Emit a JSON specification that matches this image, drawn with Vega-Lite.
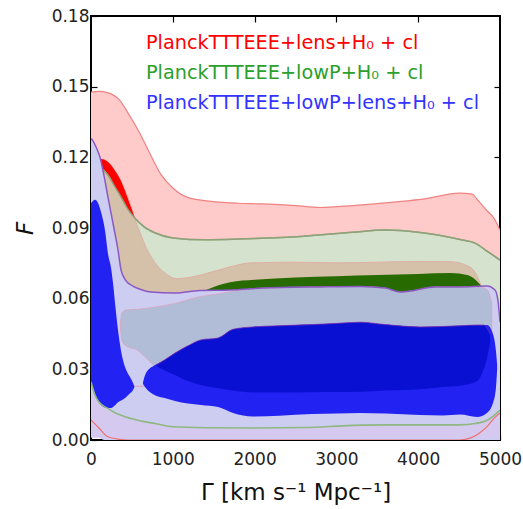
{
"$schema": "https://vega.github.io/schema/vega-lite/v6.json",
"width": 409, "height": 424,
"autosize": "none",
"padding": {"left": 91, "top": 16, "right": 23, "bottom": 69},
"background": "white",
"config": {
  "view": {"stroke": "black", "strokeWidth": 2},
  "area": {"opacity": 1, "fillOpacity": 1},
  "line": {"opacity": 1},
  "text": {"opacity": 1},
  "axis": {"grid": false, "domain": false, "tickColor": "black", "tickWidth": 1.2, "tickSize": -6, "labelFlush": false, "labelOverlap": false,
           "labelFont": "DejaVu Sans", "labelFontSize": 17, "labelColor": "#222", "labelPadding": 8,
           "titleFont": "DejaVu Sans", "titleFontSize": 23, "titleFontWeight": "normal", "titleColor": "#111"}
},
"datasets": {
  "pink": [{"x":0,"lo":0.0085,"hi":0.1477},{"x":100,"lo":0.005,"hi":0.148},{"x":200,"lo":0.0015,"hi":0.1475},{"x":350,"lo":0.0003,"hi":0.1443},{"x":450,"lo":0,"hi":0.139},{"x":600,"lo":0,"hi":0.130},{"x":700,"lo":0,"hi":0.123},{"x":850,"lo":0,"hi":0.113},{"x":1000,"lo":0,"hi":0.107},{"x":1200,"lo":0,"hi":0.1028},{"x":1500,"lo":0,"hi":0.1012},{"x":1800,"lo":0,"hi":0.1005},{"x":2100,"lo":0,"hi":0.1002},{"x":2500,"lo":0,"hi":0.0995},{"x":2800,"lo":0,"hi":0.0987},{"x":3200,"lo":0,"hi":0.0995},{"x":3700,"lo":0,"hi":0.101},{"x":4100,"lo":0,"hi":0.1025},{"x":4500,"lo":0,"hi":0.1048},{"x":4650,"lo":0.001,"hi":0.1045},{"x":4750,"lo":0.003,"hi":0.101},{"x":4850,"lo":0.006,"hi":0.097},{"x":4920,"lo":0.009,"hi":0.0945},{"x":5000,"lo":0.0115,"hi":0.089}],
  "green": [{"x":0,"lo":0.0246,"hi":0.1145},{"x":50,"lo":0.019,"hi":0.1155},{"x":100,"lo":0.016,"hi":0.1155},{"x":200,"lo":0.0135,"hi":0.1128},{"x":300,"lo":0.0115,"hi":0.107},{"x":370,"lo":0.0105,"hi":0.103},{"x":450,"lo":0.0095,"hi":0.098},{"x":540,"lo":0.0087,"hi":0.094},{"x":650,"lo":0.0078,"hi":0.0905},{"x":780,"lo":0.007,"hi":0.088},{"x":1000,"lo":0.0056,"hi":0.0858},{"x":1400,"lo":0.0052,"hi":0.085},{"x":2000,"lo":0.0051,"hi":0.0855},{"x":2600,"lo":0.0053,"hi":0.0865},{"x":3200,"lo":0.0062,"hi":0.0882},{"x":3600,"lo":0.0064,"hi":0.0891},{"x":4000,"lo":0.0064,"hi":0.0882},{"x":4500,"lo":0.0064,"hi":0.0852},{"x":4700,"lo":0.007,"hi":0.0835},{"x":4850,"lo":0.0085,"hi":0.08},{"x":5000,"lo":0.0127,"hi":0.0764}],
  "tan": [{"x":0,"lo":0.06,"hi":0.117},{"x":122,"lo":0.06,"hi":0.1193},{"x":208,"lo":0.06,"hi":0.118},{"x":300,"lo":0.06,"hi":0.114},{"x":367,"lo":0.06,"hi":0.11},{"x":477,"lo":0.06,"hi":0.1006},{"x":540,"lo":0.06,"hi":0.0935},{"x":600,"lo":0.06,"hi":0.088},{"x":685,"lo":0.06,"hi":0.081},{"x":800,"lo":0.06,"hi":0.0745},{"x":900,"lo":0.06,"hi":0.071},{"x":1050,"lo":0.06,"hi":0.0685},{"x":1200,"lo":0.06,"hi":0.069},{"x":1390,"lo":0.06,"hi":0.0705},{"x":1700,"lo":0.06,"hi":0.0735},{"x":1950,"lo":0.06,"hi":0.0752},{"x":2500,"lo":0.06,"hi":0.0755},{"x":3000,"lo":0.06,"hi":0.0752},{"x":3500,"lo":0.06,"hi":0.0755},{"x":4000,"lo":0.06,"hi":0.0758},{"x":4400,"lo":0.06,"hi":0.0757},{"x":4633,"lo":0.06,"hi":0.0734},{"x":4756,"lo":0.06,"hi":0.0667},{"x":4800,"lo":0.06,"hi":0.062}],
  "wedge": [{"x":0,"lo":0.1145,"hi":0.117},{"x":122,"lo":0.1155,"hi":0.1193},{"x":208,"lo":0.1128,"hi":0.118},{"x":300,"lo":0.107,"hi":0.114},{"x":367,"lo":0.103,"hi":0.11},{"x":450,"lo":0.098,"hi":0.1025},{"x":540,"lo":0.094,"hi":0.0938}],
  "dgreen": [{"x":1390,"lo":0.063,"hi":0.0635},{"x":1500,"lo":0.06,"hi":0.065},{"x":1700,"lo":0.06,"hi":0.067},{"x":2000,"lo":0.06,"hi":0.068},{"x":2500,"lo":0.06,"hi":0.069},{"x":3000,"lo":0.06,"hi":0.0695},{"x":3500,"lo":0.06,"hi":0.07},{"x":4000,"lo":0.06,"hi":0.0705},{"x":4400,"lo":0.06,"hi":0.0709},{"x":4600,"lo":0.06,"hi":0.07},{"x":4700,"lo":0.06,"hi":0.068},{"x":4790,"lo":0.06,"hi":0.0645}],
  "lav": [{"x":0,"lo":0.004,"hi":0.128},{"x":24,"lo":0.003,"hi":0.127},{"x":60,"lo":0.002,"hi":0.1245},{"x":110,"lo":0.001,"hi":0.12},{"x":160,"lo":0,"hi":0.112},{"x":208,"lo":0,"hi":0.103},{"x":280,"lo":0,"hi":0.09},{"x":330,"lo":0,"hi":0.0807},{"x":367,"lo":0,"hi":0.0722},{"x":420,"lo":0,"hi":0.068},{"x":489,"lo":0,"hi":0.0658},{"x":600,"lo":0,"hi":0.064},{"x":733,"lo":0,"hi":0.0628},{"x":1027,"lo":0,"hi":0.0624},{"x":1330,"lo":0,"hi":0.0635},{"x":1700,"lo":0,"hi":0.0637},{"x":2100,"lo":0,"hi":0.0645},{"x":2800,"lo":0,"hi":0.065},{"x":3300,"lo":0,"hi":0.0652},{"x":3600,"lo":0,"hi":0.0645},{"x":3778,"lo":0,"hi":0.0628},{"x":3950,"lo":0,"hi":0.0635},{"x":4200,"lo":0,"hi":0.065},{"x":4500,"lo":0,"hi":0.065},{"x":4841,"lo":0,"hi":0.0654},{"x":4939,"lo":0,"hi":0.0637},{"x":4976,"lo":0,"hi":0.059},{"x":5000,"lo":0,"hi":0.05}],
  "gray": [{"x":360,"lo":0.047,"hi":0.05},{"x":380,"lo":0.042,"hi":0.054},{"x":428,"lo":0.04,"hi":0.0552},{"x":575,"lo":0.038,"hi":0.0555},{"x":700,"lo":0.034,"hi":0.056},{"x":800,"lo":0.031,"hi":0.0565},{"x":1027,"lo":0.03,"hi":0.058},{"x":1308,"lo":0.03,"hi":0.0607},{"x":1550,"lo":0.03,"hi":0.062},{"x":1800,"lo":0.03,"hi":0.0635},{"x":2100,"lo":0.03,"hi":0.0645},{"x":2800,"lo":0.03,"hi":0.065},{"x":3300,"lo":0.03,"hi":0.0652},{"x":3600,"lo":0.03,"hi":0.0645},{"x":3778,"lo":0.03,"hi":0.0628},{"x":3950,"lo":0.03,"hi":0.0635},{"x":4200,"lo":0.03,"hi":0.065},{"x":4500,"lo":0.03,"hi":0.065},{"x":4750,"lo":0.03,"hi":0.065},{"x":4850,"lo":0.03,"hi":0.0635},{"x":4900,"lo":0.035,"hi":0.058}],
  "blueL": [{"x":0,"lo":0.025,"hi":0.1005},{"x":24,"lo":0.0212,"hi":0.1015},{"x":49,"lo":0.019,"hi":0.102},{"x":86,"lo":0.0165,"hi":0.1006},{"x":122,"lo":0.015,"hi":0.0968},{"x":171,"lo":0.0138,"hi":0.089},{"x":208,"lo":0.0136,"hi":0.079},{"x":245,"lo":0.0136,"hi":0.073},{"x":269,"lo":0.014,"hi":0.0666},{"x":300,"lo":0.015,"hi":0.056},{"x":330,"lo":0.016,"hi":0.0467},{"x":391,"lo":0.0172,"hi":0.034},{"x":416,"lo":0.0178,"hi":0.031},{"x":477,"lo":0.0198,"hi":0.0267},{"x":510,"lo":0.021,"hi":0.0245},{"x":530,"lo":0.0225,"hi":0.0228}],
  "blueR": [{"x":636,"lo":0.0238,"hi":0.0245},{"x":672,"lo":0.022,"hi":0.0284},{"x":782,"lo":0.019,"hi":0.0318},{"x":900,"lo":0.0178,"hi":0.034},{"x":1027,"lo":0.0166,"hi":0.0369},{"x":1186,"lo":0.0155,"hi":0.04},{"x":1345,"lo":0.0149,"hi":0.0425},{"x":1553,"lo":0.014,"hi":0.0433},{"x":1736,"lo":0.0115,"hi":0.047},{"x":1980,"lo":0.01,"hi":0.048},{"x":2300,"lo":0.0103,"hi":0.0485},{"x":2700,"lo":0.011,"hi":0.049},{"x":3000,"lo":0.0112,"hi":0.0495},{"x":3289,"lo":0.0115,"hi":0.05},{"x":3600,"lo":0.0112,"hi":0.049},{"x":4022,"lo":0.0106,"hi":0.048},{"x":4300,"lo":0.0104,"hi":0.0482},{"x":4511,"lo":0.0108,"hi":0.0485},{"x":4720,"lo":0.0098,"hi":0.0488},{"x":4841,"lo":0.0115,"hi":0.0488},{"x":4914,"lo":0.0157,"hi":0.045},{"x":4950,"lo":0.022,"hi":0.038},{"x":4965,"lo":0.03,"hi":0.032}],
  "navy": [{"x":794,"lo":0.0315,"hi":0.0318},{"x":900,"lo":0.0295,"hi":0.034},{"x":1027,"lo":0.0276,"hi":0.0369},{"x":1186,"lo":0.025,"hi":0.04},{"x":1345,"lo":0.0233,"hi":0.0425},{"x":1553,"lo":0.022,"hi":0.0433},{"x":1736,"lo":0.021,"hi":0.047},{"x":1980,"lo":0.0202,"hi":0.048},{"x":2300,"lo":0.0202,"hi":0.0485},{"x":2700,"lo":0.0203,"hi":0.049},{"x":3000,"lo":0.0204,"hi":0.0495},{"x":3289,"lo":0.0205,"hi":0.05},{"x":3600,"lo":0.021,"hi":0.049},{"x":4022,"lo":0.0215,"hi":0.048},{"x":4300,"lo":0.0225,"hi":0.0482},{"x":4511,"lo":0.023,"hi":0.0485},{"x":4720,"lo":0.025,"hi":0.0488},{"x":4800,"lo":0.03,"hi":0.0488},{"x":4850,"lo":0.036,"hi":0.047},{"x":4880,"lo":0.042,"hi":0.045}],
  "redfaint": [{"x":0,"y":0.04},{"x":100,"y":0.032},{"x":200,"y":0.026},{"x":300,"y":0.0235},{"x":400,"y":0.0228},{"x":600,"y":0.0228},{"x":800,"y":0.0232},{"x":1100,"y":0.022},{"x":1500,"y":0.0205},{"x":2000,"y":0.0195},{"x":3000,"y":0.0195},{"x":4000,"y":0.0205},{"x":4500,"y":0.0215},{"x":4700,"y":0.024},{"x":4800,"y":0.03}]
},
"layer": [
  {"data": {"name": "pink"}, "mark": {"type": "area", "color": "#ffcaca", "opacity": 1, "interpolate": "monotone", "clip": true, "line": {"color": "#f08282", "strokeWidth": 1.2}},
   "encoding": {"x": {"field": "x", "type": "quantitative", "scale": {"domain": [0, 5000], "nice": false, "zero": false},
                      "axis": {"orient": "bottom", "values": [0, 1000, 2000, 3000, 4000, 5000], "format": "d", "labelPadding": 17, "title": "Γ [km s⁻¹ Mpc⁻¹]", "titlePadding": 14}},
                "y": {"field": "hi", "type": "quantitative", "scale": {"domain": [0, 0.18], "nice": false, "zero": false},
                      "axis": {"orient": "left", "values": [0, 0.03, 0.06, 0.09, 0.12, 0.15, 0.18], "format": ".2f", "title": "F", "titleFontStyle": "italic", "titlePadding": 14}},
                "y2": {"field": "lo"}}},
  {"data": {"name": "green"}, "mark": {"type": "area", "color": "#d5e2cd", "opacity": 1, "interpolate": "monotone", "clip": true, "line": {"color": "#90b482", "strokeWidth": 1.5}},
   "encoding": {"x": {"field": "x", "type": "quantitative", "scale": {"domain": [0, 5000], "nice": false, "zero": false},
                      "axis": {"orient": "top", "values": [1000, 2000, 3000, 4000], "labels": false, "title": null}},
                "y": {"field": "hi", "type": "quantitative", "scale": {"domain": [0, 0.18], "nice": false, "zero": false},
                      "axis": {"orient": "right", "values": [0.03, 0.06, 0.09, 0.12, 0.15], "labels": false, "title": null}},
                "y2": {"field": "lo"}}},
  {"data": {"name": "tan"}, "mark": {"type": "area", "color": "#d5c0aa", "opacity": 1, "interpolate": "monotone", "clip": true, "line": {"color": "#e0a8a0", "strokeWidth": 0.8}},
   "encoding": {"x": {"field": "x", "type": "quantitative", "scale": {"domain": [0, 5000], "nice": false, "zero": false}, "axis": null},
                "y": {"field": "hi", "type": "quantitative", "scale": {"domain": [0, 0.18], "nice": false, "zero": false}, "axis": null},
                "y2": {"field": "lo"}}},
  {"data": {"name": "wedge"}, "mark": {"type": "area", "color": "#ff0000", "opacity": 1, "interpolate": "monotone", "clip": true},
   "encoding": {"x": {"field": "x", "type": "quantitative", "scale": {"domain": [0, 5000], "nice": false, "zero": false}, "axis": null},
                "y": {"field": "hi", "type": "quantitative", "scale": {"domain": [0, 0.18], "nice": false, "zero": false}, "axis": null},
                "y2": {"field": "lo"}}},
  {"data": {"name": "green"}, "mark": {"type": "line", "color": "#90a07a", "strokeWidth": 1.5, "interpolate": "monotone", "clip": true},
   "encoding": {"x": {"field": "x", "type": "quantitative", "scale": {"domain": [0, 5000], "nice": false, "zero": false}, "axis": null},
                "y": {"field": "hi", "type": "quantitative", "scale": {"domain": [0, 0.18], "nice": false, "zero": false}, "axis": null}}},
  {"data": {"name": "dgreen"}, "mark": {"type": "area", "color": "#276b00", "opacity": 1, "interpolate": "monotone", "clip": true},
   "encoding": {"x": {"field": "x", "type": "quantitative", "scale": {"domain": [0, 5000], "nice": false, "zero": false}, "axis": null},
                "y": {"field": "hi", "type": "quantitative", "scale": {"domain": [0, 0.18], "nice": false, "zero": false}, "axis": null},
                "y2": {"field": "lo"}}},
  {"data": {"name": "lav"}, "mark": {"type": "area", "color": "#cdcdf1", "opacity": 1, "interpolate": "monotone", "clip": true},
   "encoding": {"x": {"field": "x", "type": "quantitative", "scale": {"domain": [0, 5000], "nice": false, "zero": false}, "axis": null},
                "y": {"field": "hi", "type": "quantitative", "scale": {"domain": [0, 0.18], "nice": false, "zero": false}, "axis": null},
                "y2": {"field": "lo"}}},
  {"data": {"name": "green"}, "mark": {"type": "area", "color": "#d6c9f0", "opacity": 1, "interpolate": "monotone", "clip": true},
   "encoding": {"x": {"field": "x", "type": "quantitative", "scale": {"domain": [0, 5000], "nice": false, "zero": false}, "axis": null},
                "y": {"field": "lo", "type": "quantitative", "scale": {"domain": [0, 0.18], "nice": false, "zero": false}, "axis": null},
                "y2": {"datum": 0.001}}},
  {"data": {"name": "gray"}, "mark": {"type": "area", "color": "#b1bdd7", "opacity": 1, "interpolate": "monotone", "clip": true, "stroke": "#e09ab0", "strokeWidth": 0.6},
   "encoding": {"x": {"field": "x", "type": "quantitative", "scale": {"domain": [0, 5000], "nice": false, "zero": false}, "axis": null},
                "y": {"field": "hi", "type": "quantitative", "scale": {"domain": [0, 0.18], "nice": false, "zero": false}, "axis": null},
                "y2": {"field": "lo"}}},
  {"data": {"name": "redfaint"}, "mark": {"type": "line", "color": "#e08aa8", "strokeWidth": 0.7, "interpolate": "monotone", "clip": true},
   "encoding": {"x": {"field": "x", "type": "quantitative", "scale": {"domain": [0, 5000], "nice": false, "zero": false}, "axis": null},
                "y": {"field": "y", "type": "quantitative", "scale": {"domain": [0, 0.18], "nice": false, "zero": false}, "axis": null}}},
  {"data": {"name": "blueR"}, "mark": {"type": "area", "color": "#2222f2", "opacity": 1, "interpolate": "monotone", "clip": true},
   "encoding": {"x": {"field": "x", "type": "quantitative", "scale": {"domain": [0, 5000], "nice": false, "zero": false}, "axis": null},
                "y": {"field": "hi", "type": "quantitative", "scale": {"domain": [0, 0.18], "nice": false, "zero": false}, "axis": null},
                "y2": {"field": "lo"}}},
  {"data": {"name": "blueL"}, "mark": {"type": "area", "color": "#2222f2", "opacity": 1, "interpolate": "monotone", "clip": true},
   "encoding": {"x": {"field": "x", "type": "quantitative", "scale": {"domain": [0, 5000], "nice": false, "zero": false}, "axis": null},
                "y": {"field": "hi", "type": "quantitative", "scale": {"domain": [0, 0.18], "nice": false, "zero": false}, "axis": null},
                "y2": {"field": "lo"}}},
  {"data": {"name": "navy"}, "mark": {"type": "area", "color": "#0a10d2", "opacity": 1, "interpolate": "monotone", "clip": true, "line": {"color": "#7a30b0", "strokeWidth": 0.8}},
   "encoding": {"x": {"field": "x", "type": "quantitative", "scale": {"domain": [0, 5000], "nice": false, "zero": false}, "axis": null},
                "y": {"field": "hi", "type": "quantitative", "scale": {"domain": [0, 0.18], "nice": false, "zero": false}, "axis": null},
                "y2": {"field": "lo"}}},
  {"data": {"name": "pink"}, "mark": {"type": "line", "color": "#f07070", "strokeWidth": 1.2, "interpolate": "monotone", "clip": true},
   "encoding": {"x": {"field": "x", "type": "quantitative", "scale": {"domain": [0, 5000], "nice": false, "zero": false}, "axis": null},
                "y": {"field": "lo", "type": "quantitative", "scale": {"domain": [0, 0.18], "nice": false, "zero": false}, "axis": null}}},
  {"data": {"name": "green"}, "mark": {"type": "line", "color": "#8fb881", "strokeWidth": 1.6, "interpolate": "monotone", "clip": true},
   "encoding": {"x": {"field": "x", "type": "quantitative", "scale": {"domain": [0, 5000], "nice": false, "zero": false}, "axis": null},
                "y": {"field": "lo", "type": "quantitative", "scale": {"domain": [0, 0.18], "nice": false, "zero": false}, "axis": null}}},
  {"data": {"name": "lav"}, "mark": {"type": "line", "color": "#8a58c4", "strokeWidth": 1.5, "interpolate": "monotone", "clip": true},
   "encoding": {"x": {"field": "x", "type": "quantitative", "scale": {"domain": [0, 5000], "nice": false, "zero": false}, "axis": null},
                "y": {"field": "hi", "type": "quantitative", "scale": {"domain": [0, 0.18], "nice": false, "zero": false}, "axis": null}}},
  {"data": {"values": [{"label": "PlanckTTTEEE+lens+H₀ + cl"}]}, "mark": {"type": "text", "align": "left", "baseline": "middle", "font": "DejaVu Sans", "fontSize": 19.3, "color": "#ff0000"},
   "encoding": {"x": {"datum": 672, "type": "quantitative", "scale": {"domain": [0, 5000], "nice": false, "zero": false}, "axis": null},
                "y": {"datum": 0.1685, "type": "quantitative", "scale": {"domain": [0, 0.18], "nice": false, "zero": false}, "axis": null},
                "text": {"field": "label"}}},
  {"data": {"values": [{"label": "PlanckTTTEEE+lowP+H₀ + cl"}]}, "mark": {"type": "text", "align": "left", "baseline": "middle", "font": "DejaVu Sans", "fontSize": 19.3, "color": "#2ca02c"},
   "encoding": {"x": {"datum": 672, "type": "quantitative", "scale": {"domain": [0, 5000], "nice": false, "zero": false}, "axis": null},
                "y": {"datum": 0.1558, "type": "quantitative", "scale": {"domain": [0, 0.18], "nice": false, "zero": false}, "axis": null},
                "text": {"field": "label"}}},
  {"data": {"values": [{"label": "PlanckTTTEEE+lowP+lens+H₀ + cl"}]}, "mark": {"type": "text", "align": "left", "baseline": "middle", "font": "DejaVu Sans", "fontSize": 19.3, "color": "#3333ff"},
   "encoding": {"x": {"datum": 672, "type": "quantitative", "scale": {"domain": [0, 5000], "nice": false, "zero": false}, "axis": null},
                "y": {"datum": 0.1431, "type": "quantitative", "scale": {"domain": [0, 0.18], "nice": false, "zero": false}, "axis": null},
                "text": {"field": "label"}}}
],
"resolve": {"axis": {"x": "independent", "y": "independent"}}
}
